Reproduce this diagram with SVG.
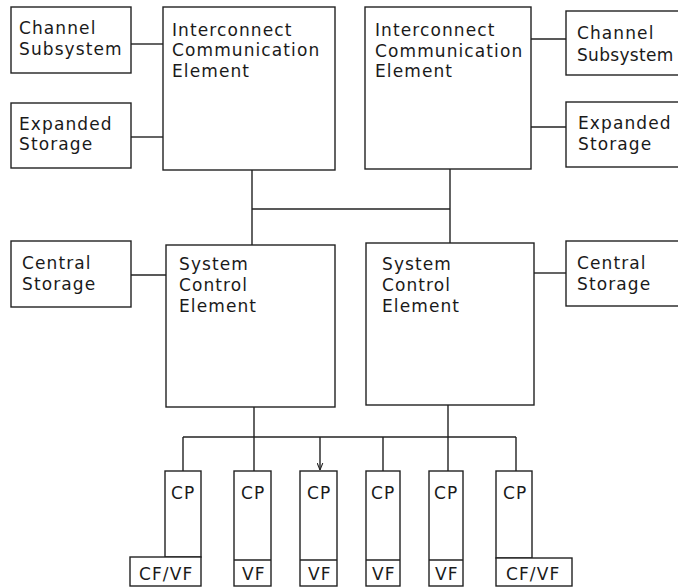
<svg xmlns="http://www.w3.org/2000/svg" width="678" height="587" viewBox="0 0 678 587">
<defs>
<style>
.b{fill:#fff;stroke:#222;stroke-width:1.4}
.c{fill:none;stroke:#222;stroke-width:1.4}
text{font-family:"DejaVu Sans","Liberation Sans",sans-serif;font-size:17px;letter-spacing:1.1px;fill:#1a1a1a}
</style>
<marker id="ah" viewBox="0 0 10 10" refX="10" refY="5" markerWidth="5" markerHeight="5" orient="auto">
<path d="M0,1 L10,5 L0,9" fill="none" stroke="#222" stroke-width="1.5"/>
</marker>
</defs>
<rect width="678" height="587" fill="#fff"/>
<g id="connectors">
<line class="c" x1="131" y1="44" x2="163" y2="44"/>
<line class="c" x1="131" y1="137" x2="163" y2="137"/>
<line class="c" x1="531" y1="39" x2="566" y2="39"/>
<line class="c" x1="531" y1="127" x2="566" y2="127"/>
<line class="c" x1="252" y1="170" x2="252" y2="245"/>
<line class="c" x1="450" y1="169" x2="450" y2="243"/>
<line class="c" x1="252" y1="209" x2="450" y2="209"/>
<line class="c" x1="131" y1="275" x2="166" y2="275"/>
<line class="c" x1="534" y1="273" x2="566" y2="273"/>
<line class="c" x1="254" y1="407" x2="254" y2="471"/>
<line class="c" x1="448" y1="405" x2="448" y2="471"/>
<line class="c" x1="183" y1="437" x2="516" y2="437"/>
<line class="c" x1="183" y1="437" x2="183" y2="471"/>
<line class="c" x1="320" y1="437" x2="320" y2="470" marker-end="url(#ah)"/>
<line class="c" x1="383" y1="437" x2="383" y2="471"/>
<line class="c" x1="516" y1="437" x2="516" y2="471"/>
</g>
<g id="channel-left"><rect class="b" x="11" y="7" width="120" height="66"/><text x="19" y="34">Channel</text><text x="19" y="55">Subsystem</text></g>
<g id="expanded-left"><rect class="b" x="11" y="103" width="120" height="65"/><text x="19" y="130">Expanded</text><text x="19" y="150">Storage</text></g>
<g id="ice-left"><rect class="b" x="163" y="7" width="172" height="163"/><text x="172" y="36">Interconnect</text><text x="172" y="56">Communication</text><text x="172" y="77">Element</text></g>
<g id="ice-right"><rect class="b" x="365" y="7" width="166" height="162"/><text x="375" y="36">Interconnect</text><text x="375" y="57">Communication</text><text x="375" y="77">Element</text></g>
<g id="channel-right"><rect class="b" x="566" y="11" width="120" height="64"/><text x="577" y="39">Channel</text><text x="577" y="61" style="letter-spacing:0.3px">Subsystem</text></g>
<g id="expanded-right"><rect class="b" x="566" y="102" width="120" height="65"/><text x="578" y="129">Expanded</text><text x="578" y="150">Storage</text></g>
<g id="central-left"><rect class="b" x="11" y="241" width="120" height="66"/><text x="22" y="269">Central</text><text x="22" y="290">Storage</text></g>
<g id="sce-left"><rect class="b" x="166" y="245" width="169" height="162"/><text x="179" y="270">System</text><text x="179" y="291">Control</text><text x="179" y="312">Element</text></g>
<g id="sce-right"><rect class="b" x="366" y="243" width="168" height="162"/><text x="382" y="270">System</text><text x="382" y="291">Control</text><text x="382" y="312">Element</text></g>
<g id="central-right"><rect class="b" x="566" y="241" width="120" height="65"/><text x="577" y="269">Central</text><text x="577" y="290">Storage</text></g>
<g id="cp1"><rect class="b" x="165" y="471" width="36" height="86"/><text x="171" y="499">CP</text><rect class="b" x="130" y="557" width="71" height="29"/><text x="139" y="580">CF/VF</text></g>
<g id="cp2"><rect class="b" x="234" y="471" width="37" height="115"/><line class="c" x1="234" y1="560" x2="271" y2="560"/><text x="241" y="499">CP</text><text x="242" y="580">VF</text></g>
<g id="cp3"><rect class="b" x="300" y="471" width="37" height="115"/><line class="c" x1="300" y1="560" x2="337" y2="560"/><text x="307" y="499">CP</text><text x="308" y="580">VF</text></g>
<g id="cp4"><rect class="b" x="366" y="471" width="34" height="115"/><line class="c" x1="366" y1="560" x2="400" y2="560"/><text x="371" y="499">CP</text><text x="372" y="580">VF</text></g>
<g id="cp5"><rect class="b" x="429" y="471" width="34" height="115"/><line class="c" x1="429" y1="560" x2="463" y2="560"/><text x="434" y="499">CP</text><text x="435" y="580">VF</text></g>
<g id="cp6"><rect class="b" x="496" y="471" width="36" height="87"/><text x="503" y="499">CP</text><rect class="b" x="496" y="558" width="76" height="28"/><text x="506" y="580">CF/VF</text></g>
</svg>
